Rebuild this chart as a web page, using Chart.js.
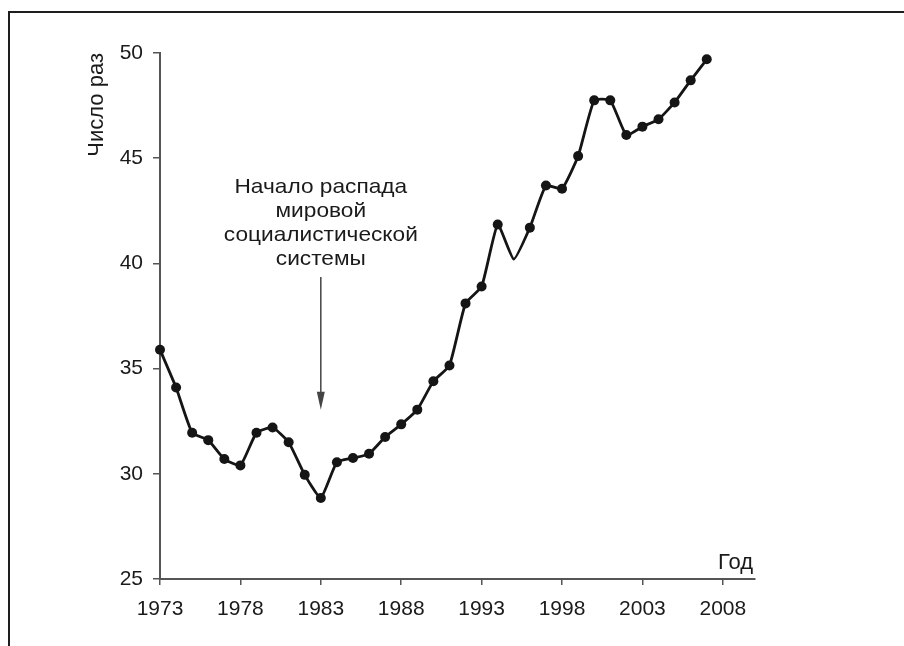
<!DOCTYPE html>
<html>
<head>
<meta charset="utf-8">
<script src="https://cdn.jsdelivr.net/npm/chart.js@4"></script>
<style>
  html, body { margin: 0; padding: 0; background: #fff; }
  #wrap { position: relative; width: 904px; height: 646px; overflow: hidden; }
  #frame { position: absolute; left: 8px; top: 11px; width: 1000px; height: 800px;
           border-top: 2px solid #1e1e1e; border-left: 2px solid #1e1e1e; }
  canvas { position: absolute; left: 0; top: 0; }
</style>
</head>
<body>
<div id="wrap">
  <div id="frame"></div>
  <canvas id="chart" width="904" height="646"></canvas>
</div>
<script>
(() => {
  'use strict'

  // Данные графика
  const years = [1973, 1974, 1975, 1976, 1977, 1978, 1979, 1980, 1981, 1982,
    1983, 1984, 1985, 1986, 1987, 1988, 1989, 1990, 1991, 1992,
    1993, 1994, 1995, 1996, 1997, 1998, 1999, 2000, 2001, 2002,
    2003, 2004, 2005, 2006, 2007]
  const values = [35.9, 34.1, 31.95, 31.6, 30.7, 30.4, 31.95, 32.2, 31.5, 29.95,
    28.85, 30.55, 30.75, 30.95, 31.75, 32.35, 33.05, 34.4, 35.15, 38.1,
    38.9, 41.85, 40.2, 41.7, 43.7, 43.55, 45.1, 47.75, 47.75, 46.1,
    46.5, 46.85, 47.65, 48.7, 49.7]
  const noMarkerYears = [1995]
  const xTickLabels = [1973, 1978, 1983, 1988, 1993, 1998, 2003, 2008]
  const yTickLabels = [25, 30, 35, 40, 45, 50]

  const yTitle = 'Число раз'
  const xTitle = 'Год'
  const noteLines = ['Начало распада', 'мировой', 'социалистической', 'системы']
  const noteYear = 1983

  const FONT = "'Liberation Sans', Arial, sans-serif"
  const axisColor = '#555'
  const textColor = '#1a1a1a'

  // Подпись со стрелкой и «Год»
  const notes = {
    id: 'notes',
    afterDatasetsDraw(chart) {
      const { ctx, scales: { x, y } } = chart
      const cx = x.getPixelForValue(noteYear)
      ctx.save()
      ctx.fillStyle = textColor
      ctx.font = '21px ' + FONT
      ctx.textAlign = 'center'
      ctx.textBaseline = 'middle'
      const y0 = y.getPixelForValue(43.6)
      noteLines.forEach((t, i) => {
        ctx.save()
        ctx.translate(cx, y0 + i * 23.7)
        ctx.scale(1.08, 1)
        ctx.fillText(t, 0, 0)
        ctx.restore()
      })

      // стрелка
      const top = y.getPixelForValue(39.35)
      const tip = y.getPixelForValue(33.05)
      ctx.strokeStyle = '#444'
      ctx.lineWidth = 1.5
      ctx.beginPath()
      ctx.moveTo(cx, top)
      ctx.lineTo(cx, tip - 10)
      ctx.stroke()
      ctx.fillStyle = '#444'
      ctx.beginPath()
      ctx.moveTo(cx - 4, tip - 18)
      ctx.lineTo(cx + 4, tip - 18)
      ctx.lineTo(cx, tip)
      ctx.closePath()
      ctx.fill()

      // подпись оси X над осью справа
      ctx.fillStyle = textColor
      ctx.font = '22px ' + FONT
      ctx.textAlign = 'right'
      ctx.textBaseline = 'alphabetic'
      ctx.fillText(xTitle, x.right - 2, y.bottom - 10)
      ctx.restore()
    }
  }

  const ctx = document.getElementById('chart')

  new Chart(ctx, {
    type: 'line',
    data: {
      datasets: [{
        data: years.map((yr, i) => ({ x: yr, y: values[i] })),
        borderColor: '#151515',
        backgroundColor: '#151515',
        borderWidth: 2.8,
        tension: 0.15,
        pointRadius: years.map(yr => noMarkerYears.includes(yr) ? 0 : 5),
        pointBorderWidth: 0,
        clip: false
      }]
    },
    options: {
      responsive: false,
      animation: false,
      events: [],
      layout: { padding: { left: 80, top: 53, right: 149, bottom: 0 } },
      plugins: { legend: { display: false }, tooltip: { enabled: false } },
      scales: {
        x: {
          type: 'linear',
          min: 1973,
          max: 2010,
          afterBuildTicks: (s) => { s.ticks = xTickLabels.map(v => ({ value: v })) },
          afterFit: (s) => { s.height = 67 },
          grid: { drawOnChartArea: false, drawTicks: true, tickLength: 6, color: axisColor, lineWidth: 1.5 },
          border: { display: true, color: axisColor, width: 2 },
          ticks: { color: textColor, font: { family: FONT, size: 21 }, padding: 12, maxRotation: 0,
                   callback: (v) => String(v) }
        },
        y: {
          min: 25,
          max: 50,
          afterBuildTicks: (s) => { s.ticks = yTickLabels.map(v => ({ value: v })) },
          afterFit: (s) => { s.width = 80 },
          grid: { drawOnChartArea: false, drawTicks: true, tickLength: 7, color: axisColor, lineWidth: 1.5 },
          border: { display: true, color: axisColor, width: 2 },
          ticks: { color: textColor, font: { family: FONT, size: 21 }, padding: 10 },
          title: {
            display: true,
            text: yTitle,
            align: 'end',
            color: textColor,
            font: { family: FONT, size: 22 },
            padding: { top: 4, bottom: 0 }
          }
        }
      }
    },
    plugins: [notes]
  })
})()
</script>
</body>
</html>
